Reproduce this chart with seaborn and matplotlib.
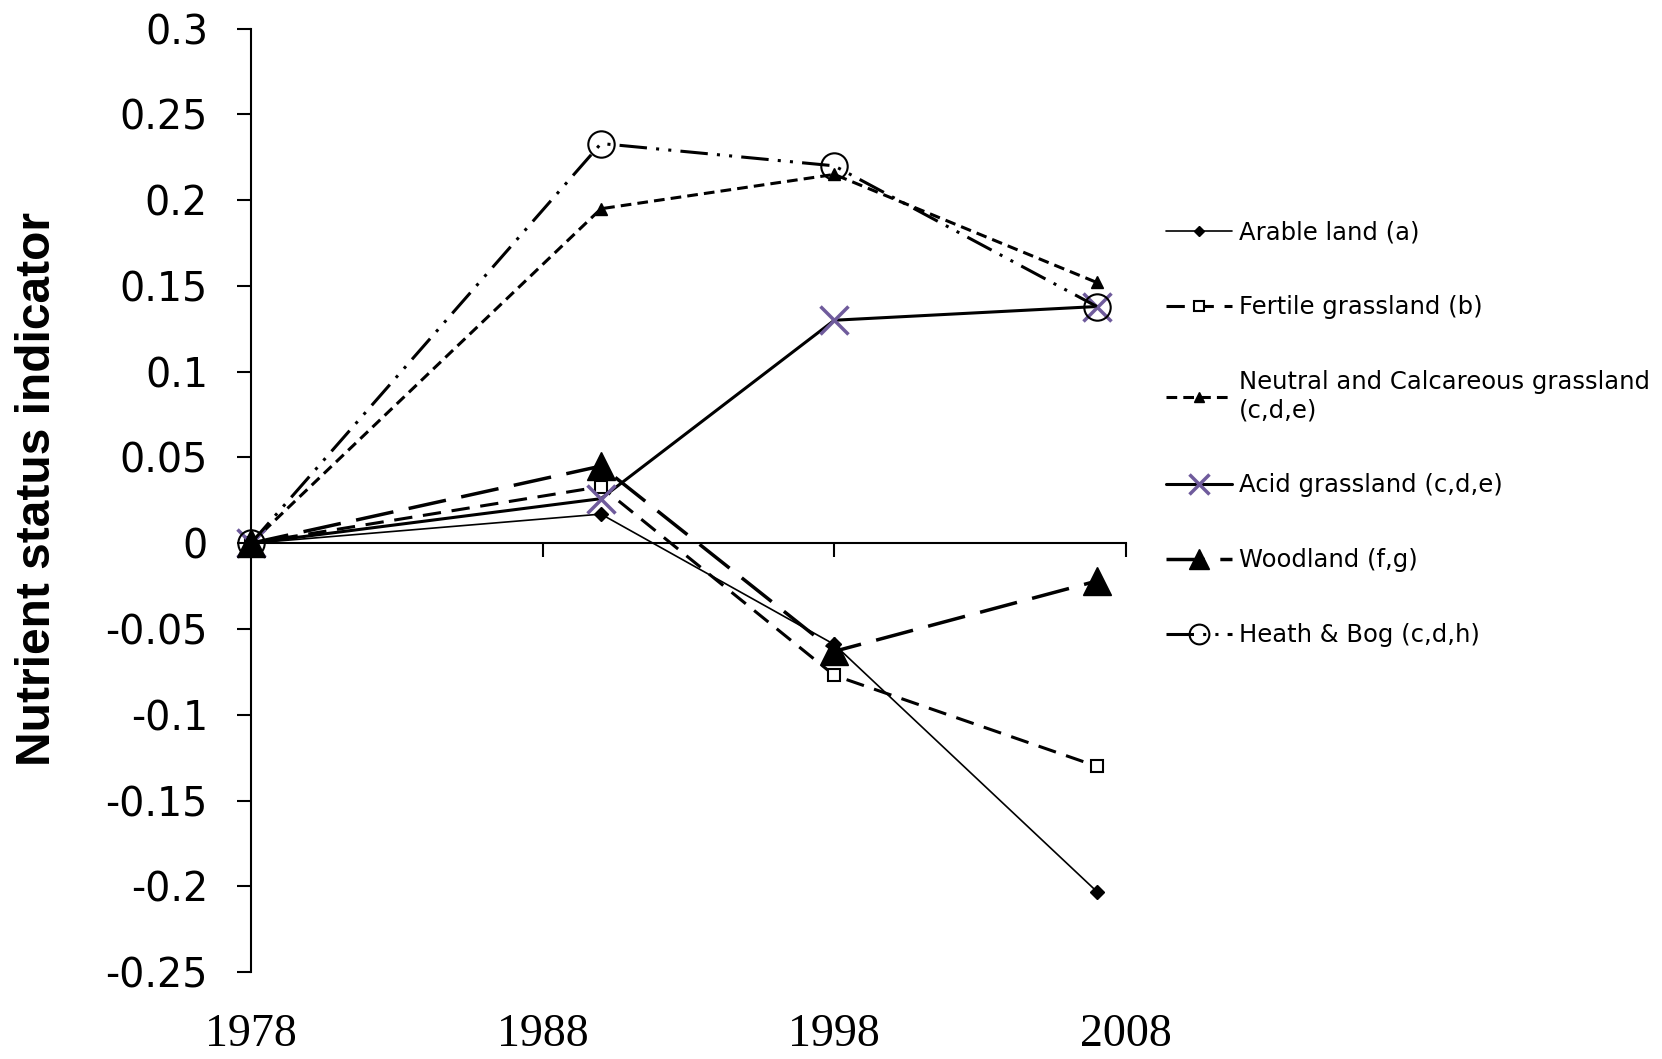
import matplotlib.pyplot as plt
import seaborn as sns
import pandas as pd

years = [1978, 1990, 1998, 2007]
arable = [0, 0.017, -0.059, -0.203]
fertile = [0, 0.033, -0.077, -0.130]
neutral = [0, 0.195, 0.215, 0.152]
acid = [0, 0.026, 0.130, 0.138]
woodland = [0, 0.045, -0.063, -0.022]
heath = [0, 0.233, 0.220, 0.138]

names = ["Arable land (a)", "Fertile grassland (b)",
         "Neutral and Calcareous grassland\n(c,d,e)", "Acid grassland (c,d,e)",
         "Woodland (f,g)", "Heath & Bog (c,d,h)"]

ytick_vals = [0.3, 0.25, 0.2, 0.15, 0.1, 0.05, 0, -0.05, -0.1, -0.15, -0.2, -0.25]
ytick_labels = ["0.3", "0.25", "0.2", "0.15", "0.1", "0.05", "0",
                "-0.05", "-0.1", "-0.15", "-0.2", "-0.25"]
xtick_vals = [1978, 1988, 1998, 2008]
xtick_labels = ["1978", "1988", "1998", "2008"]

sns.set_style("white")
plt.rcParams['font.family'] = ['DejaVu Sans']
plt.rcParams['text.color'] = 'black'
plt.rcParams['axes.labelcolor'] = 'black'
plt.rcParams['xtick.color'] = 'black'
plt.rcParams['ytick.color'] = 'black'

purple = "#6F5B9C"
styles = [
    dict(linestyle="-", linewidth=1.2, marker="D", markersize=7,
         markerfacecolor="black", markeredgecolor="black", markeredgewidth=1),
    dict(linestyle=(0, (6, 3.5)), linewidth=2.2, marker="s", markersize=9,
         markerfacecolor="white", markeredgecolor="black", markeredgewidth=1.5),
    dict(linestyle=(0, (3.5, 2)), linewidth=2.2, marker="^", markersize=9,
         markerfacecolor="black", markeredgecolor="black", markeredgewidth=1),
    dict(linestyle="-", linewidth=2.2, marker="x", markersize=20,
         markerfacecolor=purple, markeredgecolor=purple, markeredgewidth=2.5),
    dict(linestyle=(0, (11, 4.5)), linewidth=2.5, marker="^", markersize=20,
         markerfacecolor="black", markeredgecolor="black", markeredgewidth=1),
    dict(linestyle=(0, (9, 3, 1, 3, 1, 3)), linewidth=2.2, marker="o", markersize=19,
         markerfacecolor="none", markeredgecolor="black", markeredgewidth=1.5),
]
series = [arable, fertile, neutral, acid, woodland, heath]

fig = plt.figure(figsize=(16.62, 10.59), dpi=100)
ax = fig.add_axes([0.151, 0.082, 0.5265, 0.891])

for name, vals, st in zip(names, series, styles):
    df = pd.DataFrame({"year": years, "value": vals})
    sns.lineplot(data=df, x="year", y="value", ax=ax, color="black",
                 label=name, clip_on=False, **st)

ax.set_xlim(1978, 2008)
ax.set_ylim(-0.25, 0.3)
ax.set_yticks(ytick_vals)
ax.set_yticklabels(ytick_labels)
ax.set_xticks(xtick_vals)
ax.tick_params(axis="x", labelbottom=False, direction="out", length=10,
               width=1.5, color="black", bottom=True)
ax.tick_params(axis="y", direction="out", length=10, width=1.5, color="black",
               left=True, labelsize=28.5, pad=21)

for s in ["top", "right"]:
    ax.spines[s].set_visible(False)
ax.spines["bottom"].set_position(("data", 0))
for s in ["bottom", "left"]:
    ax.spines[s].set_color("black")
    ax.spines[s].set_linewidth(1.5)

sec = ax.secondary_xaxis("bottom")
sec.set_xticks(xtick_vals)
sec.set_xticklabels(xtick_labels, family=["Liberation Serif", "DejaVu Serif"])
sec.spines["bottom"].set_visible(False)
sec.tick_params(length=0, labelsize=33, pad=30)

ax.set_xlabel("")
ax.set_ylabel("Nutrient status indicator", fontsize=34.5, fontweight="bold",
              family=["Liberation Sans", "DejaVu Sans"])
ax.yaxis.set_label_coords(-0.218, 0.512)

ax.legend(loc="upper left", bbox_to_anchor=(0.7016, 0.792),
          bbox_transform=fig.transFigure, frameon=False, fontsize=17.5,
          handlelength=2.7, handletextpad=0.3, labelspacing=2.1,
          borderpad=0, borderaxespad=0, markerscale=0.75)

fig.savefig("out.png", dpi=100)
